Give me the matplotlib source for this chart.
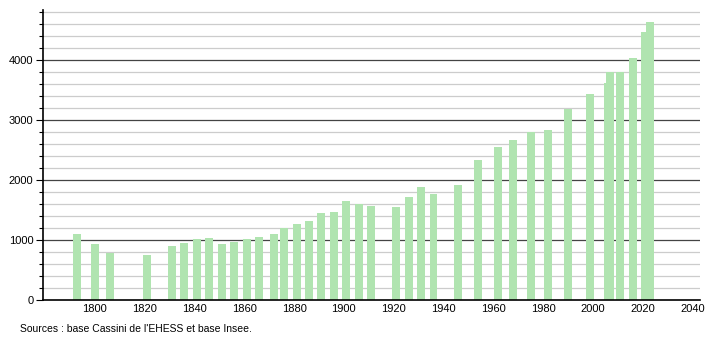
import numpy as np
import matplotlib.pyplot as plt
from matplotlib.ticker import MultipleLocator

plt.rcParams['font.family'] = ['Liberation Sans', 'DejaVu Sans']

# Années de recensement et population
annees = [1793, 1800, 1806, 1821, 1831, 1836, 1841, 1846, 1851, 1856,
          1861, 1866, 1872, 1876, 1881, 1886, 1891, 1896, 1901, 1906,
          1911, 1921, 1926, 1931, 1936, 1946, 1954, 1962, 1968, 1975,
          1982, 1990, 1999, 2006, 2007, 2011, 2016, 2021, 2023]
population = [1100, 933, 790, 750, 900, 950, 1017, 1033, 933, 967,
              1017, 1050, 1100, 1200, 1267, 1317, 1450, 1467, 1650, 1600,
              1567, 1550, 1717, 1883, 1767, 1917, 2333, 2550, 2667, 2806,
              2833, 3183, 3433, 3617, 3800, 3800, 4033, 4467, 4633]
ticks_x = list(range(1800, 2041, 20))
ticks_y = [0, 1000, 2000, 3000, 4000]

fig = plt.figure(figsize=(7.1, 3.4), dpi=100)
ax = fig.add_axes([43/710, 40/340, 657/710, 290/340])

# Grille : fine tous les 200, foncée tous les 1000
for v in np.arange(200, 4900, 200):
    if v % 1000 == 0:
        ax.axhline(v, color='#444444', linewidth=0.9, zorder=1)
    else:
        ax.axhline(v, color='#cccccc', linewidth=0.9, zorder=1)

ax.bar(annees, population, width=3.2, color='#b0e4b0', zorder=2)

ax.set_xlim(1779.2, 2043.0)
ax.set_ylim(0, 4833)
ax.set_xticks(ticks_x)
ax.set_yticks(ticks_y)
ax.yaxis.set_minor_locator(MultipleLocator(200))
ax.tick_params(axis='x', length=0, labelsize=8, pad=3)
ax.tick_params(axis='y', which='major', length=5, width=0.8, labelsize=8, pad=2)
ax.tick_params(axis='y', which='minor', length=3, width=0.8)

for s in ['top', 'right']:
    ax.spines[s].set_visible(False)
ax.spines['left'].set_linewidth(1.2)
ax.spines['bottom'].set_linewidth(1.2)

fig.text(20/710, 1 - 329/340, "Sources : base Cassini de l'EHESS et base Insee.",
         fontsize=7.5, va='center', ha='left')

fig.savefig('out.png', dpi=100)
